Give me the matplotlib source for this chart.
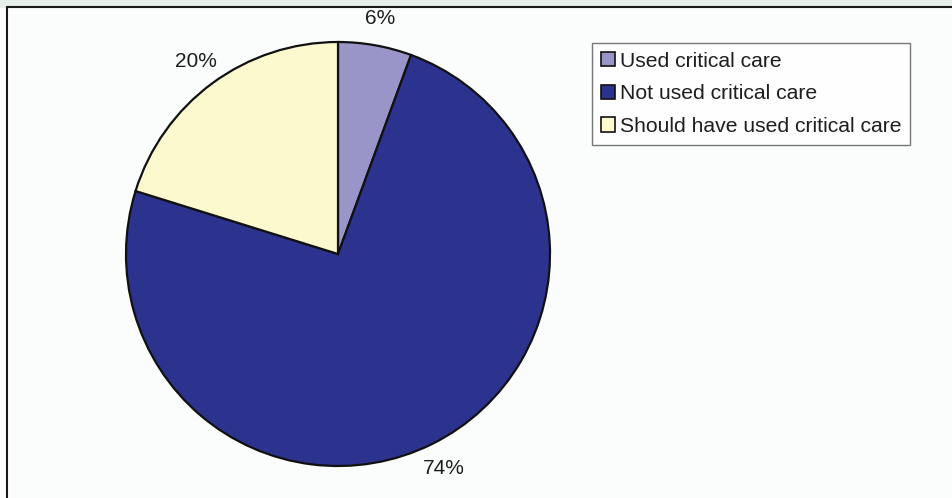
import matplotlib
matplotlib.use("Agg")
import matplotlib.pyplot as plt
from matplotlib.patches import Rectangle, Patch

plt.rcParams['font.family'] = ['Liberation Sans', 'DejaVu Sans']

categories = ["Used critical care", "Not used critical care", "Should have used critical care"]
values = [5.6, 74.2, 20.2]
pct_labels = ["6%", "74%", "20%"]
colors = ["#9995c9", "#2c338f", "#fdf9cf"]

W, H = 952, 498
fig = plt.figure(figsize=(W / 100, H / 100), dpi=100)
fig.patch.set_facecolor("#ffffff")

# light green strip at top
fig.add_artist(Rectangle((0, 1 - 8 / H), 1, 8 / H, transform=fig.transFigure,
                         facecolor="#e6efe9", edgecolor="none", zorder=0))
# panel frame
fig.add_artist(Rectangle((6.5 / W, -0.05), 1.0, 1 - 7.5 / H + 0.05, transform=fig.transFigure,
                         facecolor="#fbfdfd", edgecolor="#1a1a1a", linewidth=1.5, zorder=0))

cx, cy, r = 338, 254, 212
ax = fig.add_axes([(cx - r) / W, (H - cy - r) / H, 2 * r / W, 2 * r / H])

wedges, texts = ax.pie(values, colors=colors, startangle=90, counterclock=False,
                       radius=1.0, labels=pct_labels, labeldistance=1.13,
                       wedgeprops=dict(edgecolor="#111111", linewidth=1.6),
                       textprops=dict(fontsize=15, color="#1e1e1e"))
for t in texts:
    t.set_ha("center")
    t.set_va("center")
ax.set_aspect("auto")
ax.set_xlim(-1, 1)
ax.set_ylim(-1, 1)
ax.axis("off")

handles = [Patch(facecolor=c, edgecolor="#111111", linewidth=1.2) for c in colors]
leg = fig.legend(handles, categories, loc="upper left",
                 bbox_to_anchor=(592 / W, 1 - 43 / H), frameon=True, fancybox=False,
                 fontsize=15.2, handlelength=0.65, handleheight=0.65, handletextpad=0.25,
                 labelspacing=0.64, borderpad=0.42, borderaxespad=0)
leg.get_frame().set_edgecolor("#555555")
leg.get_frame().set_linewidth(1.0)
for t in leg.get_texts():
    t.set_color("#1e1e1e")

fig.savefig("out.png", dpi=100)
